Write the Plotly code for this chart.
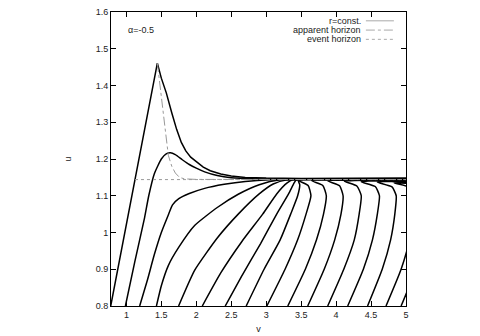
import plotly.graph_objects as go

# r = const. curves as (v, u) point lists
curve_a_v = [0.776, 1.443, 1.5, 1.571, 1.65, 1.72, 1.786, 1.85, 1.92, 2.0, 2.1, 2.2, 2.35, 2.5, 2.7, 3.0, 3.5, 5.0]
curve_a_u = [0.8, 1.461, 1.42, 1.38, 1.325, 1.28, 1.245, 1.222, 1.205, 1.192, 1.178, 1.168, 1.159, 1.154, 1.150, 1.148, 1.147, 1.148]

r_curves = [
    ([0.986, 1.12, 1.26, 1.32, 1.40, 1.5, 1.57, 1.63, 1.7, 1.8, 1.9, 2.0, 2.12, 2.3, 2.5, 2.8, 3.2, 4.0, 5.0],
     [0.8, 0.92, 1.04, 1.10, 1.16, 1.20, 1.214, 1.217, 1.212, 1.198, 1.185, 1.175, 1.165, 1.155, 1.149, 1.146, 1.1455, 1.1455, 1.146]),
    ([1.19, 1.3, 1.4, 1.5, 1.594, 1.66, 1.75, 1.9, 2.12, 2.4, 2.7, 3.05, 5.0],
     [0.8, 0.87, 0.94, 1.0, 1.045, 1.075, 1.092, 1.106, 1.12, 1.131, 1.139, 1.1435, 1.1438]),
    ([1.43, 1.5, 1.6, 1.75, 1.976, 2.3, 2.6, 2.9, 3.2, 5.0],
     [0.8, 0.855, 0.91, 0.96, 1.019, 1.068, 1.104, 1.13, 1.1432, 1.1437]),
    ([1.747, 1.976, 2.3, 2.6, 2.9, 3.1, 3.3, 5.0],
     [0.8, 0.897, 0.985, 1.05, 1.105, 1.132, 1.1432, 1.1436]),
    ([2.086, 2.35, 2.65, 2.95, 3.15, 3.3, 3.38, 5.0],
     [0.8, 0.89, 0.975, 1.05, 1.105, 1.135, 1.1432, 1.1435]),
    ([2.414, 2.66, 2.92, 3.15, 3.32, 3.40, 3.43, 5.0],
     [0.8, 0.885, 0.97, 1.05, 1.105, 1.135, 1.1432, 1.1434]),
    ([2.714, 2.97, 3.2, 3.35, 3.45, 3.48, 3.46, 5.0],
     [0.8, 0.9, 0.98, 1.05, 1.10, 1.13, 1.142, 1.1433]),
    ([3.009, 3.27, 3.45, 3.57, 3.64, 3.6, 3.46, 4.3, 5.0],
     [0.8, 0.9, 0.98, 1.05, 1.10, 1.128, 1.142, 1.1434, 1.1425]),
    ([3.309, 3.56, 3.72, 3.82, 3.86, 3.81, 3.65, 4.3, 5.0],
     [0.8, 0.9, 0.98, 1.05, 1.10, 1.128, 1.141, 1.1432, 1.1412]),
    ([3.594, 3.83, 3.98, 4.07, 4.10, 4.05, 3.88, 4.35, 5.0],
     [0.8, 0.9, 0.98, 1.05, 1.10, 1.127, 1.1405, 1.143, 1.1398]),
    ([3.88, 4.11, 4.26, 4.33, 4.36, 4.30, 4.12, 4.45, 5.0],
     [0.8, 0.9, 0.98, 1.05, 1.10, 1.126, 1.1395, 1.1425, 1.1383]),
    ([4.166, 4.39, 4.52, 4.59, 4.62, 4.56, 4.36, 4.6, 5.0],
     [0.8, 0.9, 0.98, 1.05, 1.10, 1.125, 1.138, 1.141, 1.137]),
    ([4.45, 4.66, 4.78, 4.84, 4.86, 4.80, 4.59, 4.8, 5.0],
     [0.8, 0.9, 0.98, 1.05, 1.10, 1.124, 1.137, 1.139, 1.1355]),
    ([4.714, 4.93, 5.05, 5.1, 5.12, 5.05, 4.83, 5.0],
     [0.8, 0.9, 0.98, 1.05, 1.10, 1.123, 1.135, 1.134]),
    ([4.93, 5.15],
     [0.8, 0.9]),
]

ah_v = [1.443, 1.48, 1.52, 1.56, 1.6, 1.65, 1.7, 1.76, 1.83, 2.0, 5.0]
ah_u = [1.461, 1.40, 1.33, 1.26, 1.21, 1.18, 1.162, 1.150, 1.146, 1.1445, 1.144]

eh_v = [1.123, 5.0]
eh_u = [1.144, 1.144]

fig = go.Figure()
fig.add_trace(go.Scatter(x=curve_a_v, y=curve_a_u, mode="lines", line=dict(color="black", width=1.5),
                         showlegend=False, hoverinfo="skip"))
for v, u in r_curves:
    fig.add_trace(go.Scatter(x=v, y=u, mode="lines",
                             line=dict(color="black", width=1.5, shape="spline", smoothing=0.5),
                             showlegend=False, hoverinfo="skip"))
fig.add_trace(go.Scatter(x=ah_v, y=ah_u, mode="lines", line=dict(color="#999999", width=1, dash="dashdot"),
                         showlegend=False))
fig.add_trace(go.Scatter(x=eh_v, y=eh_u, mode="lines", line=dict(color="#999999", width=1, dash="dot"),
                         showlegend=False))

font = dict(family="Liberation Sans, Arial, sans-serif", size=9, color="#222")
axis = dict(showline=True, linecolor="black", linewidth=1, mirror="ticks", ticks="inside", ticklen=5,
            tickcolor="black", showgrid=False, zeroline=False, tickfont=font, automargin=False,
            ticklabeloverflow="allow")
# the page body adds 8px, so margins are shifted to keep the plot box in place
fig.update_layout(
    width=480, height=336,
    margin=dict(l=103, r=82, t=4, b=38),
    paper_bgcolor="white", plot_bgcolor="white",
    showlegend=False,
    xaxis=dict(axis, range=[0.78, 5], tick0=1, dtick=0.5,
               title=dict(text="v", font=font, standoff=6)),
    yaxis=dict(axis, range=[0.8, 1.6], tick0=0.8, dtick=0.1,
               title=dict(text="u", font=font, standoff=22)),
)

# gnuplot-style key: text right-aligned, sample line on the right
key = [("r=const.", "solid"), ("apparent horizon", "dashdot"), ("event horizon", "dot")]
for i, (name, dash) in enumerate(key):
    y = 0.970 - i * 0.0315
    fig.add_annotation(xref="paper", yref="paper", x=0.854, y=y, text=name, showarrow=False,
                       xanchor="right", yanchor="middle", font=font)
    fig.add_shape(type="line", xref="paper", yref="paper", x0=0.864, x1=0.959, y0=y, y1=y,
                  line=dict(color="#aaaaaa", width=1, dash=dash))
fig.add_annotation(xref="paper", yref="paper", x=0.051, y=0.939, text="α=-0.5", showarrow=False,
                   xanchor="left", yanchor="middle", font=font)

fig.write_html("out.html")
